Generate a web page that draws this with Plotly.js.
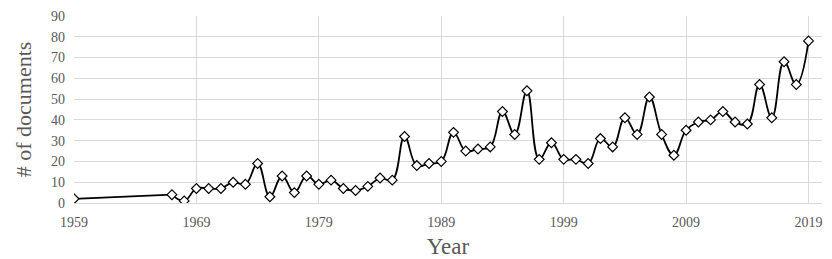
<!DOCTYPE html>
<html>
<head>
<meta charset="utf-8">
<script src="https://cdn.plot.ly/plotly-3.0.1.min.js"></script>
<style>html,body{margin:0;padding:0;background:#fff;}#chart{width:832px;height:259px;}</style>
</head>
<body>
<div id="chart"></div>
<script>
const years = [1959, 1967, 1968, 1969, 1970, 1971, 1972, 1973, 1974, 1975, 1976, 1977, 1978, 1979, 1980, 1981, 1982, 1983, 1984, 1985, 1986, 1987, 1988, 1989, 1990, 1991, 1992, 1993, 1994, 1995, 1996, 1997, 1998, 1999, 2000, 2001, 2002, 2003, 2004, 2005, 2006, 2007, 2008, 2009, 2010, 2011, 2012, 2013, 2014, 2015, 2016, 2017, 2018, 2019];
const documents = [2, 4, 1, 7, 7, 7, 10, 9, 19, 3, 13, 5, 13, 9, 11, 7, 6, 8, 12, 11, 32, 18, 19, 20, 34, 25, 26, 27, 44, 33, 54, 21, 29, 21, 21, 19, 31, 27, 41, 33, 51, 33, 23, 35, 39, 40, 44, 39, 38, 57, 41, 68, 57, 78];
const xTicks = [1959, 1969, 1979, 1989, 1999, 2009, 2019];
const yTicks = [0, 10, 20, 30, 40, 50, 60, 70, 80, 90];

// the long 1959 -> 1967 gap is drawn straight, the yearly part smoothed
const gapTrace = {
  x: years.slice(0, 2), y: documents.slice(0, 2), type: 'scatter', mode: 'lines',
  line: {color: '#000000', width: 1.8}, hoverinfo: 'skip'
};
const curveTrace = {
  x: years.slice(1), y: documents.slice(1), type: 'scatter', mode: 'lines',
  line: {color: '#000000', width: 1.8, shape: 'spline', smoothing: 1.2}, hoverinfo: 'skip'
};
const markerTrace = {
  x: years, y: documents, type: 'scatter', mode: 'markers',
  marker: {symbol: 'diamond', size: 7.5, color: '#ffffff', line: {color: '#000000', width: 1.2}},
  hoverinfo: 'x+y'
};

const font = "'Liberation Serif', 'Times New Roman', Times, serif";
const layout = {
  width: 832, height: 259,
  margin: {l: 74, r: 10, t: 16, b: 56},
  paper_bgcolor: '#ffffff', plot_bgcolor: '#ffffff',
  showlegend: false,
  font: {family: font, color: '#595959'},
  xaxis: {
    range: [1959, 2020.1], tickvals: xTicks, ticktext: xTicks.map(String),
    showgrid: true, gridcolor: '#d9d9d9', gridwidth: 1,
    showline: true, linecolor: '#d9d9d9', linewidth: 1,
    zeroline: false, ticks: '', ticklabelstandoff: 6,
    tickfont: {family: font, size: 14, color: '#595959'},
    title: {text: 'Year', font: {family: font, size: 23, color: '#595959'}, standoff: 9}
  },
  yaxis: {
    range: [0, 90], tickvals: yTicks,
    showgrid: true, gridcolor: '#d9d9d9', gridwidth: 1,
    showline: false, zeroline: false, ticks: '', ticklabelstandoff: 8,
    tickfont: {family: font, size: 14, color: '#595959'},
    title: {text: '# of documents', font: {family: font, size: 22, color: '#595959'}, standoff: 13}
  }
};

Plotly.newPlot('chart', [gapTrace, curveTrace, markerTrace], layout, {displayModeBar: false, staticPlot: true});
</script>
</body>
</html>
